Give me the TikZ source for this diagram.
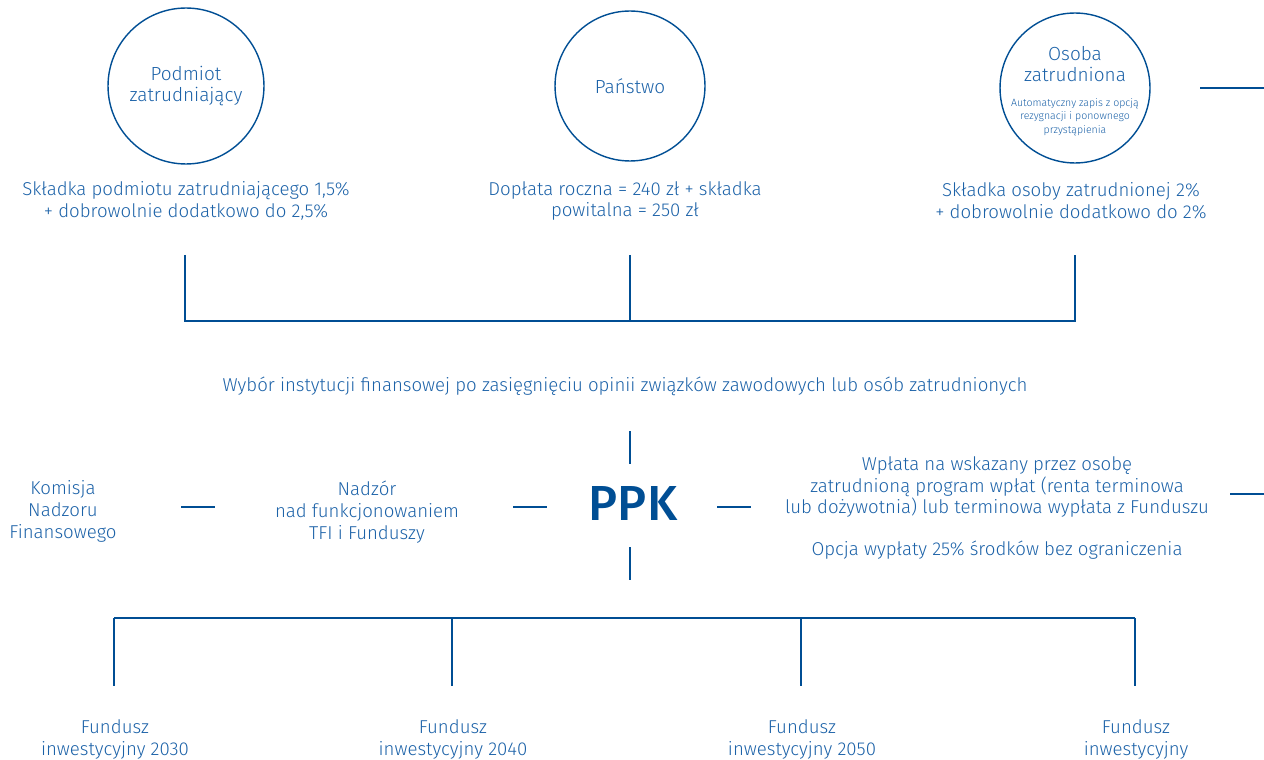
\documentclass[tikz,border=0pt]{standalone}
\usepackage{fontspec}
\setmainfont{Fira Sans Light}
\newfontfamily\ppkfont{Fira Sans Medium}
\definecolor{pkoline}{RGB}{0, 78, 148}
\definecolor{pkotext}{RGB}{28, 98, 168}
\usetikzlibrary{positioning}

\begin{document}
\begin{tikzpicture}[x = 0.02cm, y = -0.02cm,
        line/.style = {draw = pkoline, line width = 0.8pt},
        label/.style = {text = pkotext, align = center, font = \fontsize{10.6}{12.5}\selectfont, inner sep = 0pt},
        bubble/.style = {circle, draw = pkoline, line width = 0.8pt, text = pkotext, align = center, inner sep = 0pt, font = \fontsize{10.8}{12}\selectfont}]
                        \useasboundingbox (0,0) rectangle (1264,760);

                        % skladki
                        \node[bubble, minimum size = 3.12cm] (podmiot) at (186,86) {Podmiot\\zatrudniający};
                        \node[bubble, minimum size = 3cm] (panstwo) at (630,86) {Państwo};
                        \node[bubble, minimum size = 3cm] (osoba) at (1075,88) {};
                        \node[label, font = \fontsize{10.8}{12}\selectfont] (osobaname) at (1075,64) {Osoba\\zatrudniona};
                        \node[label, font = \fontsize{6}{7.6}\selectfont, below = 0.32cm of osobaname] (osobainfo) {Automatyczny zapis z opcją\\rezygnacji i ponownego\\przystąpienia};
                        \coordinate (topright) at (1264,88);
                        \draw[line] (1200,88) coordinate (topleft) -- (topright);

                        \node[label] (skladkapod) at (186,201) {Składka podmiotu zatrudniającego 1,5\%\\+ dobrowolnie dodatkowo do 2,5\%};
                        \node[label] (doplata) at (625,201) {Dopłata roczna = 240 zł + składka\\powitalna = 250 zł};
                        \node[label] (skladkaos) at (1071,201) {Składka osoby zatrudnionej 2\%\\+ dobrowolnie dodatkowo do 2\%};

                        \coordinate (a1) at (185,255);
                        \coordinate (a2) at (630,255);
                        \coordinate (a3) at (1075,255);
                        \coordinate (b1) at (185,321);
                        \coordinate (b2) at (630,321);
                        \coordinate (b3) at (1075,321);
                        \draw[line] (a1) -- (b1) -- (b3) -- (a3);
                        \draw[line] (a2) -- (b2);

                        \node[label] (wybor) at (625,386) {Wybór instytucji finansowej po zasięgnięciu opinii związków zawodowych lub osób zatrudnionych};

                        % PPK
                        \node[text = pkoline, font = \ppkfont\fontsize{28}{30}\selectfont, inner sep = 0pt] (ppk) at (633,503) {PPK};
                        \coordinate (ppkn1) at (630,431);
                        \coordinate (ppkn2) at (630,464);
                        \coordinate (ppks1) at (630,547);
                        \coordinate (ppks2) at (630,580);
                        \draw[line] (ppkn1) -- (ppkn2);
                        \draw[line] (ppks1) -- (ppks2);

                        \node[label] (knf) at (63,511) {Komisja\\Nadzoru\\Finansowego};
                        \node[label] (nadzor) at (367,512) {Nadzór\\nad funkcjonowaniem\\TFI i Funduszy};
                        \node[label] (wyplata) at (997,487) {Wpłata na wskazany przez osobę\\zatrudnioną program wpłat (renta terminowa\\lub dożywotnia) lub terminowa wypłata z Funduszu};
                        \node[label] (opcja) at (997,550) {Opcja wypłaty 25\% środków bez ograniczenia};

                        \draw[line] (181,507) coordinate (k1) -- (215,507) coordinate (k2);
                        \draw[line] (513,507) coordinate (n1) -- (547,507) coordinate (n2);
                        \draw[line] (717,507) coordinate (w1) -- (751,507) coordinate (w2);
                        \draw[line] (1230,494) coordinate (r1) -- (1264,494) coordinate (r2);

                        % fundusze
                        \foreach \name/\x/\rok in {f30/114/ 2030, f40/452/ 2040, f50/801/ 2050, fx/1135/} {
                            \coordinate (\name top) at (\x,618);
                            \coordinate (\name bot) at (\x,686);
                            \draw[line] (\name top) -- (\name bot);
                            \node[label] (\name) at (\x+1,739) {Fundusz\\inwestycyjny\rok};
                        }
                        \draw[line] (f30top) -- (fxtop);
                    \end{tikzpicture}
\end{document}
